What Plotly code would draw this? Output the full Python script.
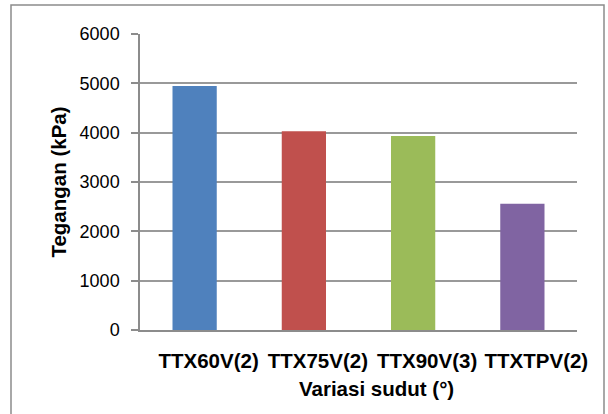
import plotly.graph_objects as go

categories = ["TTX60V(2)", "TTX75V(2)", "TTX90V(3)", "TTXTPV(2)"]
values = [4945, 4030, 3930, 2560]
colors = ["#4F81BD", "#C0504D", "#9BBB59", "#8064A2"]
y_ticks = [0, 1000, 2000, 3000, 4000, 5000, 6000]

W, H = 608, 414
L, R, T, B = 140, 31, 34, 84
pw, ph = W - L - R, H - T - B
FONT = "Liberation Sans, Arial, sans-serif"

fig = go.Figure(go.Bar(x=categories, y=values, marker=dict(color=colors, line=dict(width=0)),
                       width=0.405))

fig.update_layout(
    width=W, height=H,
    margin=dict(l=L, r=R, t=T, b=B),
    paper_bgcolor="white", plot_bgcolor="white",
    font=dict(family=FONT, color="black"),
    showlegend=False,
    xaxis=dict(
        showline=True, linecolor="#8c8c8c", linewidth=1.5,
        tickfont=dict(size=20.5, family=FONT),
        tickprefix="<b>", ticksuffix="</b>",
        ticks="", ticklabelstandoff=12, ticklabelshift=14,
    ),
    yaxis=dict(
        range=[0, 6000], tickvals=y_ticks,
        showline=True, linecolor="#8c8c8c", linewidth=1.5,
        showgrid=True, gridcolor="#999999", gridwidth=1.5,
        ticks="outside", ticklen=7, tickcolor="#8c8c8c", tickwidth=1.5,
        tickfont=dict(size=18), ticklabelstandoff=8,
        zeroline=False,
        title=dict(text="<b>Tegangan (kPa)</b>", font=dict(size=20.5), standoff=7),
    ),
    annotations=[dict(
        text="<b>Variasi sudut (°)</b>", font=dict(size=20.5, family=FONT),
        xref="paper", yref="paper", x=(376 - L) / pw, y=(H - B - 388) / ph,
        xanchor="center", yanchor="middle", showarrow=False,
    )],
    shapes=[dict(
        type="rect", xref="paper", yref="paper",
        x0=(11 - L) / pw, x1=(604 - L) / pw,
        y0=-(420 - (H - B)) / ph, y1=((H - B) - 5) / ph,
        line=dict(color="#8c8c8c", width=1.5), layer="below",
    )],
)

fig.write_html("out.html", config={"displayModeBar": False},
               post_script="document.body.style.margin='0px';")
